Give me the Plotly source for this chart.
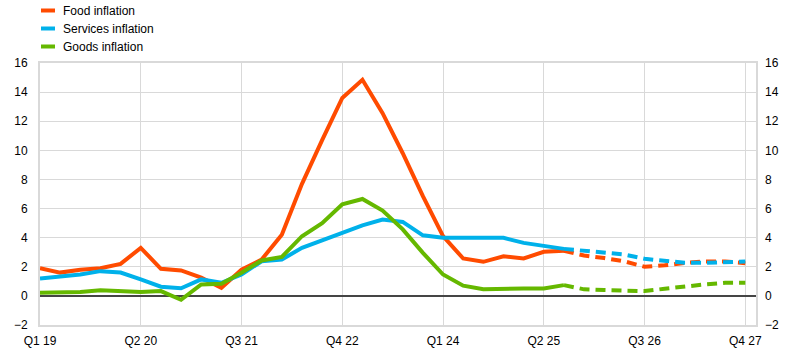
import plotly.graph_objects as go

quarters = [f"Q{q} {y}" for y in range(19, 28) for q in range(1, 5)]
tick_labels = ["Q1 19", "Q2 20", "Q3 21", "Q4 22", "Q1 24", "Q2 25", "Q3 26", "Q4 27"]

food = [1.9, 1.6, 1.8, 1.9, 2.2, 3.3, 1.86, 1.75, 1.25, 0.56, 1.8, 2.5, 4.2, 7.7, 10.7,
        13.6, 14.85, 12.55, 9.8, 6.85, 4.1, 2.57, 2.34, 2.72, 2.57, 3.03, 3.1, 2.77,
        2.6, 2.37, 2.0, 2.1, 2.27, 2.36, 2.36, 2.25]
services = [1.2, 1.36, 1.47, 1.7, 1.6, 1.13, 0.63, 0.52, 1.13, 0.9, 1.47, 2.38, 2.5, 3.3, 3.8,
            4.33, 4.85, 5.24, 5.08, 4.16, 3.99, 3.99, 3.99, 3.99, 3.64, 3.46, 3.23, 3.12,
            3.0, 2.84, 2.55, 2.43, 2.27, 2.27, 2.31, 2.36]
goods = [0.22, 0.26, 0.26, 0.38, 0.33, 0.26, 0.33, -0.27, 0.79, 0.84, 1.59, 2.43, 2.68, 4.1, 5.0,
         6.3, 6.66, 5.86, 4.57, 2.96, 1.47, 0.7, 0.45, 0.51, 0.51, 0.51, 0.74, 0.45,
         0.4, 0.37, 0.33, 0.49, 0.67, 0.79, 0.9, 0.9]
proj_start = 26  # index where projections (dashed) begin

series = [("Food inflation", food, "#FF4B00"),
          ("Services inflation", services, "#00B1EA"),
          ("Goods inflation", goods, "#65B800")]

fig = go.Figure()
for name, vals, col in series:
    fig.add_trace(go.Scatter(x=quarters[:proj_start + 1], y=vals[:proj_start + 1], mode="lines",
                             line=dict(color=col, width=4), showlegend=False, name=name))
    fig.add_trace(go.Scatter(x=quarters[proj_start:], y=vals[proj_start:], mode="lines",
                             line=dict(color=col, width=4, dash="10px,6px"), showlegend=False,
                             name=name + " (projection)"))
# invisible trace for right axis
fig.add_trace(go.Scatter(x=[quarters[0]], y=[0], yaxis="y2", mode="markers",
                         marker=dict(opacity=0), showlegend=False, hoverinfo="skip"))

W, H = 786, 353
L, R, T, B = 40, 30, 63, 28
pw, ph = W - L - R, H - T - B

# manual legend
for i, (name, vals, col) in enumerate(series):
    py = 10.5 + 18 * i
    yp = (H - B - py) / ph
    fig.add_shape(type="line", xref="paper", yref="paper",
                  x0=(41 - L) / pw, x1=(55 - L) / pw, y0=yp, y1=yp,
                  line=dict(color=col, width=4))
    fig.add_annotation(xref="paper", yref="paper", x=(61 - L) / pw, y=yp, text=name,
                       showarrow=False, xanchor="left", yanchor="middle",
                       font=dict(size=12, color="#000000", family="Liberation Sans, Arial"))

yax = dict(range=[-2, 16], tickvals=list(range(-2, 17, 2)), showgrid=True,
           gridcolor="#d9d9d9", gridwidth=1, ticks="", ticklabelstandoff=8, automargin=False,
           tickfont=dict(size=12, color="#000000", family="Liberation Sans, Arial"))

fig.update_layout(
    width=W, height=H, margin=dict(l=L, r=R, t=T, b=B),
    paper_bgcolor="white", plot_bgcolor="white",
    xaxis=dict(type="category", range=[0, 35.53], tickvals=tick_labels, ticktext=tick_labels,
               showgrid=True, gridcolor="#d9d9d9", gridwidth=1, ticks="",
               showline=True, mirror=True, linecolor="#d9d9d9", linewidth=2,
               ticklabelstandoff=4, automargin=False,
               tickfont=dict(size=12, color="#000000", family="Liberation Sans, Arial")),
    yaxis=dict(**yax, zeroline=True, zerolinecolor="#454545", zerolinewidth=2,
               showline=True, mirror=True, linecolor="#d9d9d9", linewidth=2),
    yaxis2=dict(**yax, overlaying="y", side="right", zeroline=False, showline=False),
    hovermode=False,
)
fig.update_yaxes(selector=dict(overlaying="y"), showgrid=False)

fig.write_html("out.html")
